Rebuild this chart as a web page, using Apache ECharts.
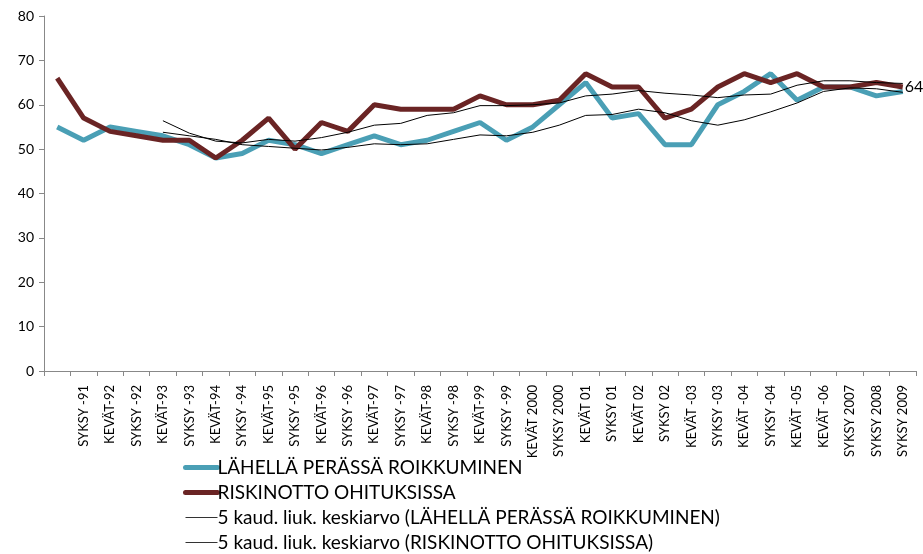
<!DOCTYPE html>
<html><head><meta charset="utf-8">
<script src="https://cdn.jsdelivr.net/npm/echarts@6/dist/echarts.min.js"></script>
<style>html,body{margin:0;padding:0;background:#fff}#c{width:923px;height:554px}</style>
</head><body><div id="c"></div>
<script>
const categories = ['', 'SYKSY -91','KEVÄT-92','SYKSY -92','KEVÄT-93','SYKSY -93','KEVÄT-94','SYKSY -94','KEVÄT-95','SYKSY -95','KEVÄT-96','SYKSY -96','KEVÄT-97','SYKSY -97','KEVÄT-98','SYKSY -98','KEVÄT-99','SYKSY -99','KEVÄT 2000','SYKSY 2000','KEVÄT 01','SYKSY 01','KEVÄT 02','SYKSY 02','KEVÄT -03','SYKSY -03','KEVÄT -04','SYKSY -04','KEVÄT -05','KEVÄT -06','SYKSY 2007','SYKSY 2008','SYKSY 2009'];
const lahella = [55,52,55,54,53,51,48,49,52,51,49,51,53,51,52,54,56,52,55,60,65,57,58,51,51,60,63,67,61,64,64,62,63];
const riski = [66,57,54,53,52,52,48,52,57,50,56,54,60,59,59,59,62,60,60,61,67,64,64,57,59,64,67,65,67,64,64,65,64];
const lahellaMA = [null,null,null,null,53.8,53.0,52.2,51.0,50.6,50.2,49.8,50.4,51.2,51.0,51.2,52.2,53.2,53.0,53.8,55.4,57.6,57.8,59.0,58.2,56.4,55.4,56.6,58.4,60.4,63.0,63.8,63.6,62.8];
const riskiMA = [null,null,null,null,56.4,53.6,51.8,51.4,52.2,51.8,52.6,53.8,55.4,55.8,57.6,58.2,59.8,59.8,60.0,60.4,62.0,62.4,63.2,62.6,62.2,61.6,62.2,62.4,64.4,65.4,65.4,65.0,64.8];
const yTicks = {min:0, max:80, interval:10};
const names = ['LÄHELLÄ PERÄSSÄ ROIKKUMINEN','RISKINOTTO OHITUKSISSA','5 kaud. liuk. keskiarvo (LÄHELLÄ PERÄSSÄ ROIKKUMINEN)','5 kaud. liuk. keskiarvo (RISKINOTTO OHITUKSISSA)'];

const font = 'Lato, "Open Sans", sans-serif';
const BLUE = '#4a9fb5', RED = '#6a2424';
const chart = echarts.init(document.getElementById('c'), null, {renderer:'canvas'});
chart.setOption({
  animation:false,
  textStyle:{fontFamily:font},
  grid:{left:44, top:16, right:7, bottom:183, containLabel:false},
  legend:{
    orient:'vertical', left:183, top:458, height:96, padding:0, itemWidth:32, itemHeight:12, itemGap:6,
    itemStyle:{opacity:0},
    textStyle:{fontFamily:font, fontSize:19, lineHeight:19, color:'#000', padding:[0,0,0,-5]},
    data:[
      {name:names[0], lineStyle:{width:5, cap:'round', color:BLUE}},
      {name:names[1], lineStyle:{width:5, cap:'round', color:RED}},
      {name:names[2], lineStyle:{width:1, color:'#333'}},
      {name:names[3], lineStyle:{width:1, color:'#333'}}
    ]
  },
  xAxis:{
    type:'category', data:categories, boundaryGap:true,
    axisLine:{lineStyle:{color:'#888'}},
    axisTick:{show:true, interval:0, length:5, lineStyle:{color:'#888'}},
    axisLabel:{rotate:90, interval:0, fontSize:13, color:'#000', fontFamily:font, margin:14}
  },
  yAxis:{
    type:'value', min:yTicks.min, max:yTicks.max, interval:yTicks.interval,
    splitLine:{show:false},
    axisLine:{show:true, lineStyle:{color:'#888'}},
    axisTick:{show:true, length:5, lineStyle:{color:'#888'}},
    axisLabel:{fontSize:14, color:'#000', fontFamily:font, margin:10}
  },
  series:[
    {name:names[0], type:'line', data:lahella, symbol:'none', lineStyle:{color:BLUE, width:5}, itemStyle:{color:BLUE}, z:2},
    {name:names[1], type:'line', data:riski, symbol:'none', lineStyle:{color:RED, width:5}, itemStyle:{color:RED}, z:3,
      endLabel:{show:true, formatter:'{c}', fontSize:16, color:'#000', fontFamily:font, distance:2}},
    {name:names[2], type:'line', data:lahellaMA, symbol:'none', connectNulls:false, lineStyle:{color:'#000', width:1}, itemStyle:{color:'#000'}, z:4},
    {name:names[3], type:'line', data:riskiMA, symbol:'none', connectNulls:false, lineStyle:{color:'#000', width:1}, itemStyle:{color:'#000'}, z:4}
  ]
});
</script></body></html>
